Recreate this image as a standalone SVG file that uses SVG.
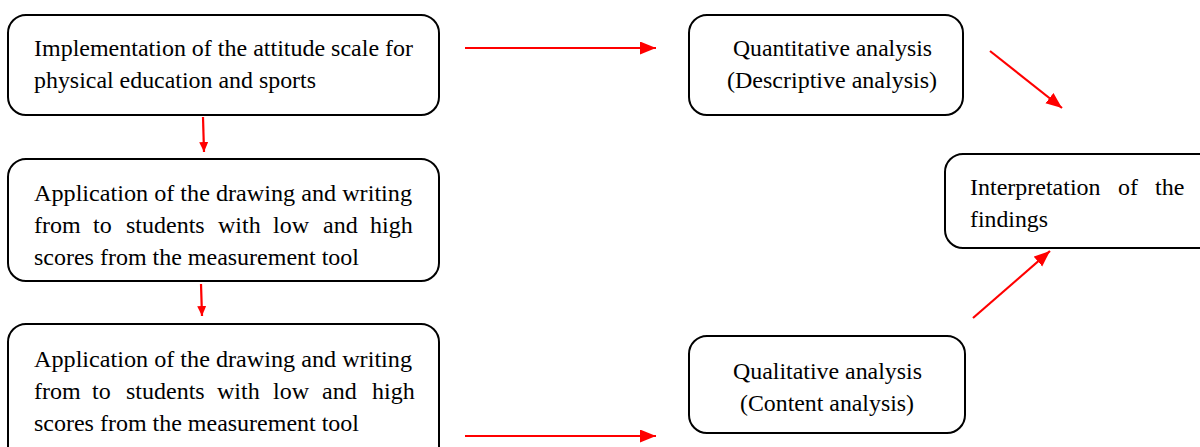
<svg xmlns="http://www.w3.org/2000/svg" width="1200" height="447" viewBox="0 0 1200 447">
<defs>
<style>
.box{fill:#fff;stroke:#000;stroke-width:2}
.t{font-family:"Liberation Serif","Times New Roman",serif;font-size:24px;fill:#000}
.c{stroke:#ff0000;stroke-width:2.2;fill:none}
</style>
<marker id="big" markerUnits="userSpaceOnUse" markerWidth="18" markerHeight="14" refX="16" refY="6.5" orient="auto"><path d="M0,0 L16,6.5 L0,13 z" fill="#ff0000"/></marker>
<marker id="small" markerUnits="userSpaceOnUse" markerWidth="12" markerHeight="10" refX="10" refY="4.5" orient="auto"><path d="M0,0 L10,4.5 L0,9 z" fill="#ff0000"/></marker>
</defs>
<rect width="1200" height="447" fill="#fff"/>
<g id="n1">
<rect class="box" x="8" y="15" width="431" height="100" rx="18"/>
<text class="t" x="34" y="56" textLength="379" lengthAdjust="spacingAndGlyphs">Implementation of the attitude scale for</text>
<text class="t" x="34" y="88" textLength="282" lengthAdjust="spacingAndGlyphs">physical education and sports</text>
</g>
<g id="n2">
<rect class="box" x="8" y="159" width="431" height="122" rx="18"/>
<text class="t" x="34" y="201" textLength="378" lengthAdjust="spacingAndGlyphs">Application of the drawing and writing</text>
<text class="t" y="233"><tspan x="34">from</tspan><tspan x="93">to</tspan><tspan x="126">students</tspan><tspan x="218">with</tspan><tspan x="273">low</tspan><tspan x="323">and</tspan><tspan x="370">high</tspan></text>
<text class="t" x="34" y="265" textLength="325" lengthAdjust="spacingAndGlyphs">scores from the measurement tool</text>
</g>
<g id="n3">
<rect class="box" x="8" y="324" width="431" height="140" rx="18"/>
<text class="t" x="34" y="367" textLength="378" lengthAdjust="spacingAndGlyphs">Application of the drawing and writing</text>
<text class="t" y="399"><tspan x="34">from</tspan><tspan x="92">to</tspan><tspan x="126">students</tspan><tspan x="217">with</tspan><tspan x="273">low</tspan><tspan x="322">and</tspan><tspan x="372">high</tspan></text>
<text class="t" x="34" y="431" textLength="325" lengthAdjust="spacingAndGlyphs">scores from the measurement tool</text>
</g>
<g id="n4">
<rect class="box" x="689" y="15" width="274" height="100" rx="18"/>
<text class="t" x="733" y="56" textLength="199" lengthAdjust="spacingAndGlyphs">Quantitative analysis</text>
<text class="t" x="727" y="88" textLength="210" lengthAdjust="spacingAndGlyphs">(Descriptive analysis)</text>
</g>
<g id="n5">
<rect class="box" x="945" y="154" width="280" height="94" rx="18"/>
<text class="t" y="195"><tspan x="970">Interpretation</tspan><tspan x="1118">of</tspan><tspan x="1155">the</tspan></text>
<text class="t" x="970" y="227" textLength="78" lengthAdjust="spacingAndGlyphs">findings</text>
</g>
<g id="n6">
<rect class="box" x="689" y="336" width="276" height="97" rx="18"/>
<text class="t" x="733" y="379" textLength="189" lengthAdjust="spacingAndGlyphs">Qualitative analysis</text>
<text class="t" x="740" y="411" textLength="174" lengthAdjust="spacingAndGlyphs">(Content analysis)</text>
</g>
<g id="connectors">
<line class="c" x1="465" y1="48" x2="656" y2="48" marker-end="url(#big)"/>
<line class="c" x1="203" y1="117" x2="204" y2="152" marker-end="url(#small)"/>
<line class="c" x1="201" y1="284" x2="202" y2="316" marker-end="url(#small)"/>
<line class="c" x1="990" y1="51" x2="1062" y2="108" marker-end="url(#big)"/>
<line class="c" x1="973" y1="318" x2="1050" y2="251" marker-end="url(#big)"/>
<line class="c" x1="465" y1="436" x2="656" y2="436" marker-end="url(#big)"/>
</g>
</svg>
